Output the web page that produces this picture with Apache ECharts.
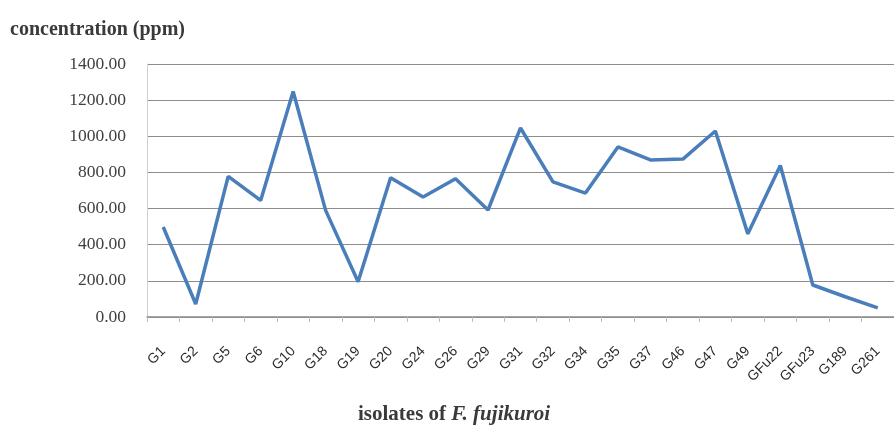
<!DOCTYPE html>
<html>
<head>
<meta charset="utf-8">
<script src="https://cdn.jsdelivr.net/npm/echarts@6/dist/echarts.min.js"></script>
<style>
html,body{margin:0;padding:0;background:#fff;}
#chart{width:894px;height:437px;}
</style>
</head>
<body>
<div id="chart"></div>
<script>
const categories = ['G1','G2','G5','G6','G10','G18','G19','G20','G24','G26','G29','G31','G32','G34','G35','G37','G46','G47','G49','GFu22','GFu23','G189','G261'];
const concentration = [498, 72, 778, 645, 1248, 590, 195, 770, 664, 765, 592, 1046, 748, 686, 941, 869, 874, 1029, 460, 838, 177, 112, 50];
const yTicks = { min: 0, max: 1400, interval: 200 };

const chart = echarts.init(document.getElementById('chart'));
chart.setOption({
  animation: false,
  backgroundColor: '#ffffff',
  title: {
    text: 'concentration (ppm)',
    left: 5,
    top: 15,
    textStyle: { fontFamily: 'Liberation Serif', fontSize: 20, fontWeight: 'bold', color: '#3a3a3a' }
  },
  grid: { left: 147, top: 64, width: 759, height: 253, containLabel: false },
  xAxis: {
    type: 'category',
    data: categories,
    boundaryGap: true,
    axisLine: { lineStyle: { color: '#8c8c8c', width: 1.5 } },
    axisTick: { show: true, length: 5, lineStyle: { color: '#bdbdbd' } },
    axisLabel: {
      interval: 0,
      rotate: 45,
      margin: 32,
      fontFamily: 'Liberation Sans',
      fontSize: 14,
      color: '#2a2a2a'
    },
    splitLine: { show: false }
  },
  yAxis: {
    type: 'value',
    min: yTicks.min,
    max: yTicks.max,
    interval: yTicks.interval,
    axisLine: { show: true, lineStyle: { color: '#d0d0d0', width: 1 } },
    axisTick: { show: false },
    axisLabel: {
      margin: 21,
      formatter: v => v.toFixed(2),
      fontFamily: 'Liberation Serif',
      fontSize: 17.5,
      color: '#404040'
    },
    splitLine: { lineStyle: { color: '#8c8c8c', width: 1.2 } }
  },
  graphic: [{
    type: 'text',
    left: 358,
    top: 404,
    style: {
      text: '{a|isolates of }{b|F. fujikuroi}',
      rich: {
        a: { fontFamily: 'Liberation Serif', fontSize: 21, fontWeight: 'bold', fill: '#3a3a3a' },
        b: { fontFamily: 'Liberation Serif', fontSize: 21, fontWeight: 'bold', fontStyle: 'italic', fill: '#3a3a3a' }
      }
    }
  }],
  series: [{
    type: 'line',
    data: concentration,
    symbol: 'none',
    lineStyle: { color: '#4a7ebb', width: 3.5 },
    itemStyle: { color: '#4a7ebb' }
  }]
});
</script>
</body>
</html>
